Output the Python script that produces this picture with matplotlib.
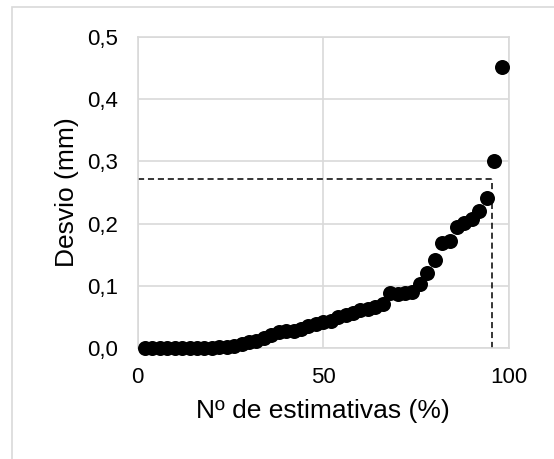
import matplotlib
matplotlib.use("Agg")
import matplotlib.pyplot as plt
from matplotlib.patches import Rectangle
from matplotlib.ticker import FuncFormatter

plt.rcParams['font.family'] = ['Liberation Sans', 'DejaVu Sans']

# Data
x_pct = [2, 4, 6, 8, 10, 12, 14, 16, 18, 20, 22, 24, 26, 28, 30, 32, 34, 36, 38, 40,
         42, 44, 46, 48, 50, 52, 54, 56, 58, 60, 62, 64, 66, 68, 70, 72, 74, 76, 78, 80,
         82, 84, 86, 88, 90, 92, 94, 96, 98]
desvio = [0, 0, 0, 0, 0, 0, 0, 0, 0, 0, 0.001, 0.002, 0.004, 0.006, 0.009, 0.012, 0.016, 0.021, 0.026, 0.027,
          0.028, 0.031, 0.035, 0.038, 0.041, 0.044, 0.050, 0.053, 0.056, 0.061, 0.062, 0.066, 0.0707, 0.088, 0.087, 0.088, 0.0905, 0.103, 0.121, 0.141,
          0.169, 0.172, 0.195, 0.201, 0.207, 0.220, 0.241, 0.301, 0.452]
ref_x = 95.3
ref_y = 0.271
xticks = [0, 50, 100]
yticks = [0.0, 0.1, 0.2, 0.3, 0.4, 0.5]

W, H = 554, 459
fig = plt.figure(figsize=(W/100, H/100), dpi=100)
L, R, T, B = 137.5, 509, 37, 348
ax = fig.add_axes([L/W, 1-B/H, (R-L)/W, (B-T)/H])

grid_c = '#d9d9d9'
ax.set_xlim(0, 100)
ax.set_ylim(0, 0.5)
ax.set_xticks(xticks)
ax.set_yticks(yticks)
ax.yaxis.set_major_formatter(FuncFormatter(lambda v, p: f"{v:.1f}".replace('.', ',')))
ax.grid(True, color=grid_c, linewidth=1.2)
ax.set_axisbelow(True)
for s in ax.spines.values():
    s.set_color(grid_c)
    s.set_linewidth(1.2)
ax.tick_params(length=0, labelsize=16, colors='black')
ax.tick_params(axis='x', pad=14)
ax.tick_params(axis='y', pad=14)

ax.plot([0, ref_x], [ref_y, ref_y], color='black', linestyle=(0, (4, 2.5)), linewidth=1.1, zorder=2)
ax.plot([ref_x, ref_x], [0, ref_y], color='black', linestyle=(0, (4, 2.5)), linewidth=1.1, zorder=2)

ax.plot(x_pct, desvio, linestyle='none', marker='o', markersize=10.8, color='black',
        markeredgewidth=0, clip_on=False, zorder=3)

ax.set_xlabel('Nº de estimativas (%)', fontsize=19)
ax.set_ylabel('Desvio (mm)', fontsize=19)
ax.xaxis.set_label_coords(0.5, (B - 399) / (B - T))
ax.yaxis.set_label_coords((79 - L) / (R - L), 0.5)

fig.patches.append(Rectangle((12/W, -0.1), 1.2, 1.1 - 7.5/H, transform=fig.transFigure,
                             fill=False, edgecolor=grid_c, linewidth=1.2))

fig.savefig('out.png', dpi=100)
